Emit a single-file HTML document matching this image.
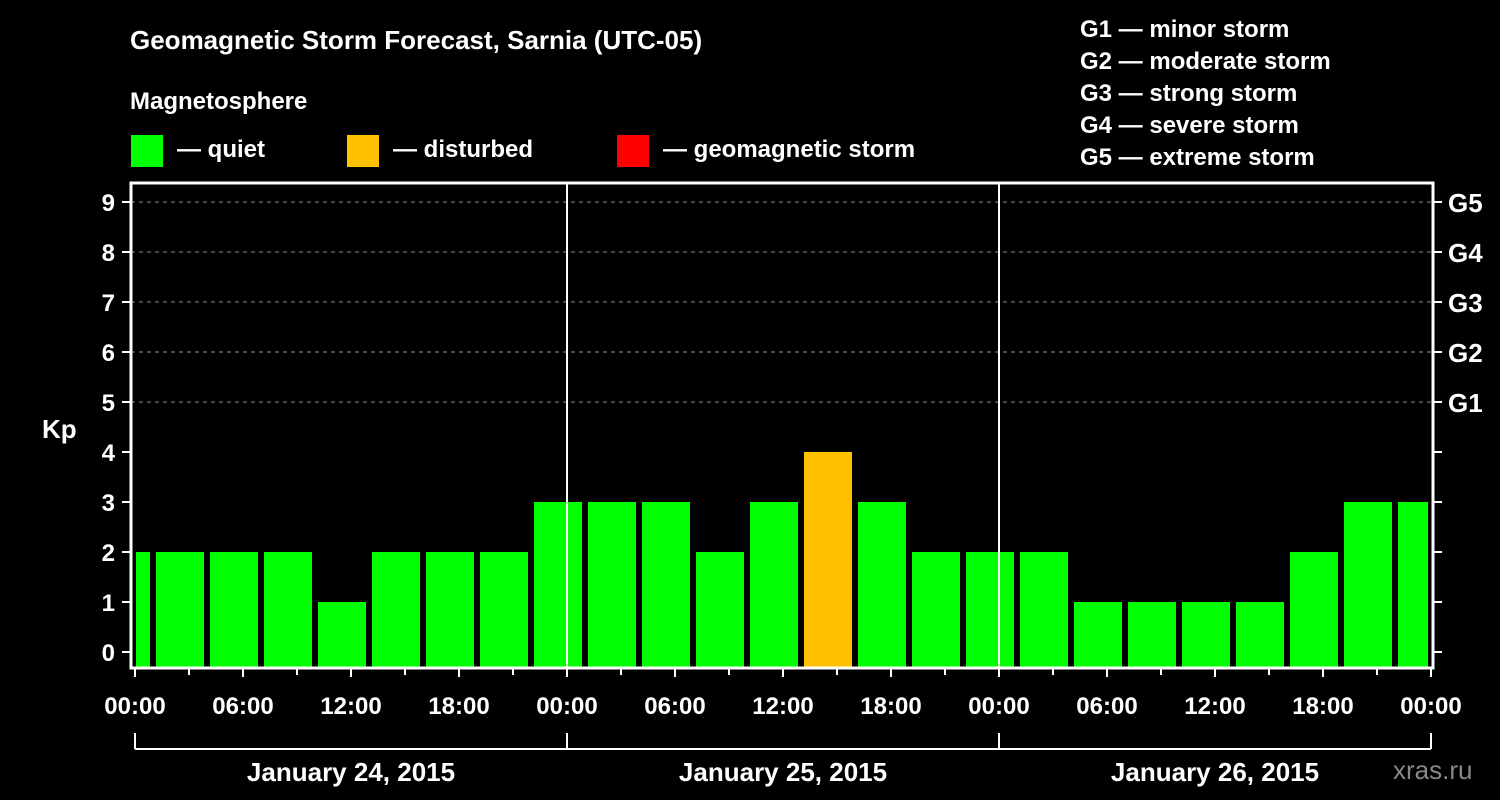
<!DOCTYPE html>
<html><head><meta charset="utf-8"><style>
html,body{margin:0;padding:0;background:#000;}
svg{display:block;font-family:"Liberation Sans",sans-serif;font-weight:bold;}
</style></head><body>
<svg id="chart" width="1500" height="800" viewBox="0 0 1500 800">
<rect width="1500" height="800" fill="#000"/>
<text x="130" y="49" fill="#fff" font-size="26">Geomagnetic Storm Forecast, Sarnia (UTC-05)</text>
<text x="130" y="109" fill="#fff" font-size="24">Magnetosphere</text>
<g><rect x="131" y="135" width="32" height="32" fill="#00ff00"/><text x="177" y="157" fill="#fff" font-size="24">— quiet</text></g>
<g><rect x="347" y="135" width="32" height="32" fill="#ffc000"/><text x="393" y="157" fill="#fff" font-size="24">— disturbed</text></g>
<g><rect x="617" y="135" width="32" height="32" fill="#ff0000"/><text x="663" y="157" fill="#fff" font-size="24">— geomagnetic storm</text></g>
<g fill="#fff" font-size="24">
<text x="1080" y="37">G1 — minor storm</text>
<text x="1080" y="69">G2 — moderate storm</text>
<text x="1080" y="101">G3 — strong storm</text>
<text x="1080" y="133">G4 — severe storm</text>
<text x="1080" y="165">G5 — extreme storm</text>
</g>
<text x="42" y="438" fill="#fff" font-size="26">Kp</text>
<text x="1393" y="779" fill="#888" font-size="26" font-weight="normal">xras.ru</text>
<g id="grid"></g><g id="bars"></g><g id="axes"></g>
</svg>
<script>
const kpValues=[2,2,2,2,1,2,2,2,3,3,3,2,3,4,3,2,2,2,1,1,1,1,2,3,3];
const barHours=[-0.5,2.5,5.5,8.5,11.5,14.5,17.5,20.5,23.5,26.5,29.5,32.5,35.5,38.5,41.5,44.5,47.5,50.5,53.5,56.5,59.5,62.5,65.5,68.5,71.5];
const yTicks=[0,1,2,3,4,5,6,7,8,9];
const gLabels=["G1","G2","G3","G4","G5"];
const xTickLabels=["00:00","06:00","12:00","18:00","00:00","06:00","12:00","18:00","00:00","06:00","12:00","18:00","00:00"];
const dayLabels=["January 24, 2015","January 25, 2015","January 26, 2015"];
const NS="http://www.w3.org/2000/svg";
const x=h=>135+h*18, y=k=>652-50*k;
const L=131,R=1433,T=183,B=668;
function mk(t,a,p){const e=document.createElementNS(NS,t);for(const k in a)e.setAttribute(k,a[k]);p.appendChild(e);return e;}
const grid=document.getElementById('grid'),bars=document.getElementById('bars'),axes=document.getElementById('axes');
for(let k=5;k<=9;k++){const l=mk('line',{x1:L,x2:R,y1:y(k),y2:y(k),stroke:'#888','stroke-dasharray':'4,4','stroke-width':1},grid);

}
kpValues.forEach((v,i)=>{const c=x(barHours[i]);let x0=Math.max(c-24,L+5),x1=Math.min(c+24,R-5);
const r=mk('rect',{x:x0,y:y(v),width:x1-x0,height:B-y(v),fill:v>=5?'#ff0000':(v>=4?'#ffc000':'#00ff00')},bars);

});
[24,48].forEach(h=>{const l=mk('line',{x1:x(h),x2:x(h),y1:T,y2:B,stroke:'#fff','stroke-width':2},axes);

});
const fr=mk('rect',{x:L,y:T,width:R-L,height:B-T,fill:'none',stroke:'#fff','stroke-width':3},axes);


yTicks.forEach(k=>{mk('line',{x1:L-9,x2:L,y1:y(k),y2:y(k),stroke:'#fff','stroke-width':2},axes);
mk('line',{x1:R,x2:R+9,y1:y(k),y2:y(k),stroke:'#fff','stroke-width':2},axes);
const t=mk('text',{x:L-16,y:y(k)+9,fill:'#fff','font-size':24,'text-anchor':'end'},axes);t.textContent=k;

});
gLabels.forEach((g,i)=>{const t=mk('text',{x:1448,y:y(i+5)+10,fill:'#fff','font-size':26},axes);t.textContent=g;

});
for(let h=0;h<=72;h+=3){mk('line',{x1:x(h),x2:x(h),y1:B,y2:h%6==0?677:675,stroke:'#fff','stroke-width':2},axes);}
xTickLabels.forEach((s,i)=>{const t=mk('text',{x:x(i*6),y:714,fill:'#fff','font-size':24,'text-anchor':'middle'},axes);t.textContent=s;

});
mk('line',{x1:x(0),x2:x(72),y1:749,y2:749,stroke:'#fff','stroke-width':2},axes);
[0,24,48,72].forEach(h=>mk('line',{x1:x(h),x2:x(h),y1:733,y2:749,stroke:'#fff','stroke-width':2},axes));
dayLabels.forEach((s,i)=>{const t=mk('text',{x:x(i*24+12),y:781,fill:'#fff','font-size':26,'text-anchor':'middle'},axes);t.textContent=s;

});
</script>
</body></html>
